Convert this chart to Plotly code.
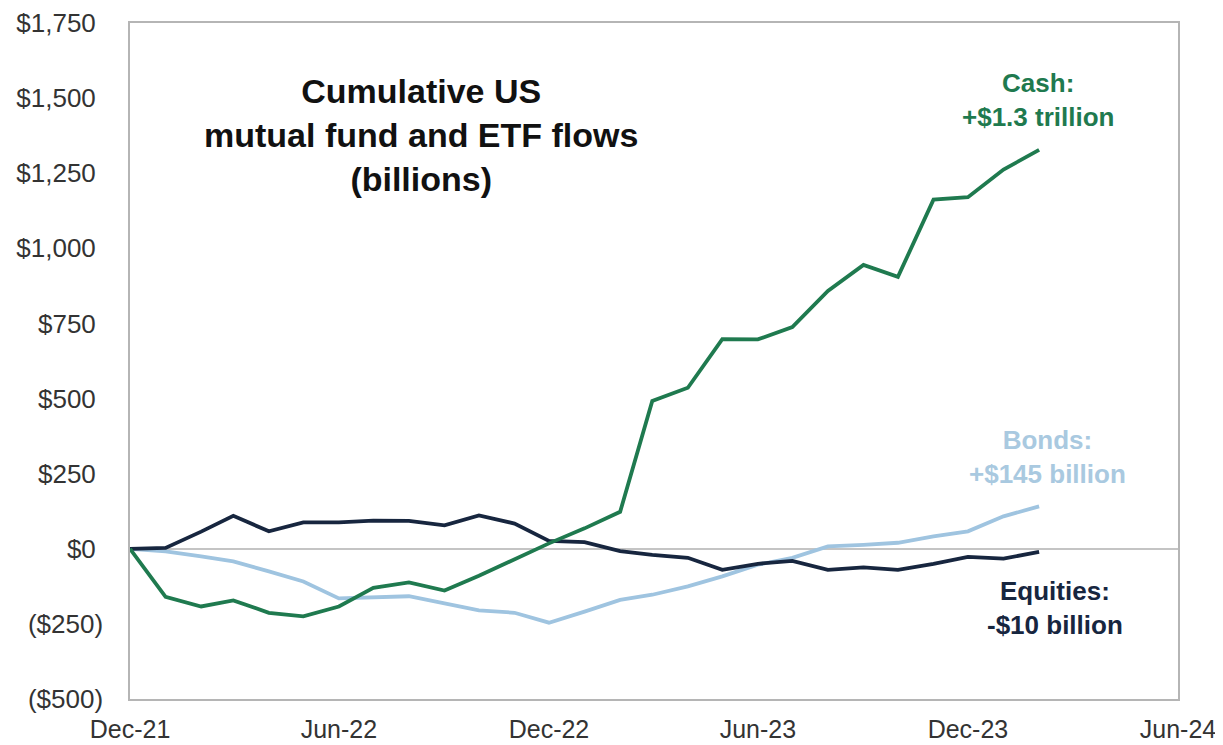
import plotly.graph_objects as go
import pandas as pd

months = pd.date_range("2021-12-01", "2024-02-01", freq="MS").strftime("%Y-%m-%d").tolist()

cash = [0, -160, -192, -172, -213, -225, -192, -130, -112, -139, -90, -35, 18,
        68, 123, 492, 536, 698, 697, 738, 858, 945, 905, 1162, 1170, 1262, 1328]
bonds = [0, -9, -25, -42, -75, -109, -165, -163, -158, -182, -205, -213, -246,
         -209, -170, -153, -125, -92, -53, -30, 8, 13, 20, 41, 58, 108, 141]
equities = [0, 3, 57, 110, 58, 88, 88, 94, 93, 78, 111, 84, 26,
            22, -8, -20, -30, -70, -50, -40, -70, -62, -70, -50, -27, -33, -10]

ytick_vals = [-500, -250, 0, 250, 500, 750, 1000, 1250, 1500, 1750]
ytick_text = ["($500)", "($250)", "$0\u00a0", "$250\u00a0", "$500\u00a0", "$750\u00a0",
              "$1,000\u00a0", "$1,250\u00a0", "$1,500\u00a0", "$1,750\u00a0"]

GREEN = "#1f7a4f"
NAVY = "#17263f"
LIGHT = "#9fc4e0"
FONT = "Liberation Sans, Arial"

fig = go.Figure()
fig.add_trace(go.Scatter(x=months, y=bonds, mode="lines", name="Bonds",
                         line=dict(color=LIGHT, width=3.8)))
fig.add_trace(go.Scatter(x=months, y=equities, mode="lines", name="Equities",
                         line=dict(color=NAVY, width=3.8)))
fig.add_trace(go.Scatter(x=months, y=cash, mode="lines", name="Cash",
                         line=dict(color=GREEN, width=3.8)))

fig.add_annotation(x=0.278, y=0.834, xref="paper", yref="paper",
                   xanchor="center", yanchor="middle",
                   text="<b>Cumulative US<br>mutual fund and ETF flows<br>(billions)</b>",
                   showarrow=False, align="center",
                   font=dict(family=FONT, size=34, color="#111111"))
fig.add_annotation(x="2024-01-31", y=1495, xref="x", yref="y",
                   xanchor="center", yanchor="middle",
                   text="<b>Cash:<br>+$1.3 trillion</b>", showarrow=False, align="center",
                   font=dict(family=FONT, size=26, color=GREEN))
fig.add_annotation(x="2024-02-08", y=306, xref="x", yref="y",
                   xanchor="center", yanchor="middle",
                   text="<b>Bonds:<br>+$145 billion</b>", showarrow=False, align="center",
                   font=dict(family=FONT, size=26, color="#a9c9e0"))
fig.add_annotation(x="2024-02-15", y=-196, xref="x", yref="y",
                   xanchor="center", yanchor="middle",
                   text="<b>Equities:<br>-$10 billion</b>", showarrow=False, align="center",
                   font=dict(family=FONT, size=26, color=NAVY))

fig.update_layout(
    width=1215, height=737,
    margin=dict(l=122, r=45, t=15, b=46, autoexpand=False),
    paper_bgcolor="white", plot_bgcolor="white",
    showlegend=False,
    font=dict(family=FONT, size=25, color="#333333"),
    xaxis=dict(type="date", range=["2021-12-01", "2024-06-01"],
               tick0="2021-12-01", dtick="M6", tickformat="%b-%y",
               showgrid=False, zeroline=False, automargin=False,
               showline=True, mirror=True, linecolor="#b5b5b5", linewidth=1.5,
               ticks="outside", ticklen=7, tickcolor="rgba(0,0,0,0)",
               tickfont=dict(size=25, color="#333333")),
    yaxis=dict(range=[-500, 1750], tickvals=ytick_vals, ticktext=ytick_text,
               showgrid=False, zeroline=True, zerolinecolor="#c4c4c4", zerolinewidth=1.5,
               showline=True, mirror=True, linecolor="#b5b5b5", linewidth=1.5,
               automargin=False,
               ticks="outside", ticklen=20, tickcolor="rgba(0,0,0,0)",
               tickfont=dict(size=26, color="#333333")),
)

fig.write_html("out.html")
